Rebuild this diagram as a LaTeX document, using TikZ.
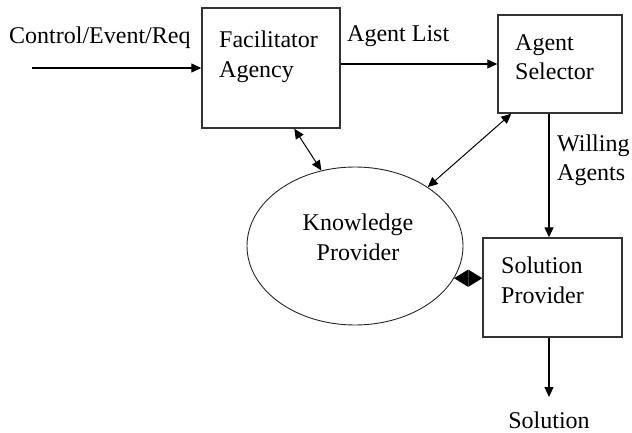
\documentclass[tikz,border=0pt]{standalone}
\usepackage{fontspec}
\setmainfont{Liberation Serif}
\usetikzlibrary{arrows.meta,shapes.geometric,calc}
\begin{document}
\begin{tikzpicture}[x=1pt,y=-1pt,
  every node/.style={font=\fontsize{24}{30}\selectfont},
  boxnode/.style={draw=black!80,line width=1.4pt,inner sep=0pt},
  lbl/.style={anchor=base west,inner sep=0pt},
  arr/.style={line width=1.1pt,-{Triangle[length=10pt,width=9pt]}},
  dbl/.style={line width=1pt,{Triangle[length=10pt,width=9pt]}-{Triangle[length=10pt,width=9pt]}},
  dia/.style={line width=1pt,{Triangle[length=14pt,width=17pt]}-{Triangle[length=14pt,width=17pt]}}]
\useasboundingbox (0,0) rectangle (632,433);

% boxes
\node[boxnode,minimum width=138pt,minimum height=120pt] (fa) at (271,68) {};
\node[boxnode,minimum width=124pt,minimum height=98pt] (as) at (560,64) {};
\node[boxnode,minimum width=139pt,minimum height=99pt] (sp) at (552.5,287.5) {};
\node[draw=black!85,line width=0.9pt,ellipse,minimum width=216pt,minimum height=158pt,
      inner sep=0pt] (kp) at (355,246) {};

% texts
\node[lbl] (ctl) at (9,44) {Control/Event/Req};
\node[lbl] (fa1) at (219,48) {Facilitator};
\node[lbl] (fa2) at (219,78) {Agency};
\node[lbl] (al) at (347,42) {Agent List};
\node[lbl] (as1) at (515,51) {Agent};
\node[lbl] (as2) at (515,80) {Selector};
\node[lbl] (wa1) at (557,152) {Willing};
\node[lbl] (wa2) at (557,181) {Agents};
\node[anchor=base,inner sep=0pt] (kp1) at (358,230) {Knowledge};
\node[anchor=base,inner sep=0pt] (kp2) at (358,260) {Provider};
\node[lbl] (sp1) at (501,273) {Solution};
\node[lbl] (sp2) at (501,303) {Provider};
\node[anchor=base,inner sep=0pt] (sol) at (549,428) {Solution};

% connectors
\coordinate (in) at (32,68);
\coordinate (out) at (549,397);
\draw[arr] (in) -- (fa.west);
\draw[arr] (as.west -| fa.east) -- (as.west);
\draw[arr] ($(as.south)+(-11,0)$) -- ($(sp.north)+(-3.5,0)$);
\draw[arr] ($(sp.south)+(-3.5,0)$) -- (out);
\draw[dbl] ($(fa.south west)+(93,0)$) -- (kp.114);
\draw[dbl] ($(as.south west)+(14,0)$) -- (kp.39);
\draw[dia] (kp.-18) -- (kp.-18 -| sp.west);
\end{tikzpicture}
\end{document}
